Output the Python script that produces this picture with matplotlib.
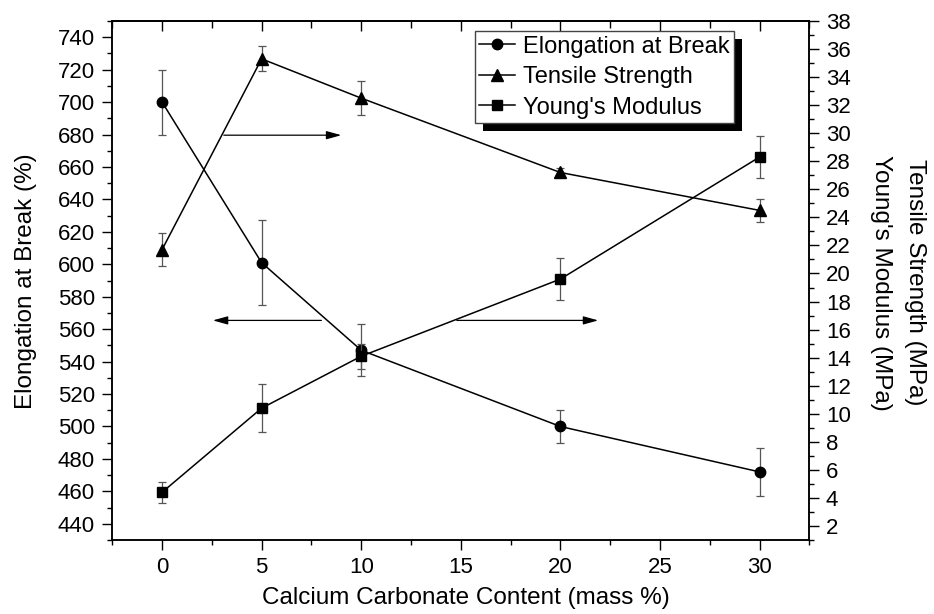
import matplotlib
matplotlib.use('Agg')
import matplotlib.pyplot as plt
from matplotlib.ticker import MultipleLocator
from matplotlib.lines import Line2D
from matplotlib.patches import Rectangle

plt.rcParams['font.family'] = ['Liberation Sans', 'DejaVu Sans']

# ---- data ----
content = [0, 5, 10, 20, 30]
elongation = [700, 601, 547, 500, 472]
elongation_err = [20, 26, 16, 10, 15]
tensile = [21.7, 35.3, 32.5, 27.2, 24.5]
tensile_err = [1.2, 0.9, 1.2, 0.3, 0.8]
modulus = [4.4, 10.4, 14.1, 19.6, 28.3]
modulus_err = [0.75, 1.7, 0.9, 1.5, 1.5]
labels = ["Elongation at Break", "Tensile Strength", "Young's Modulus"]

# annotation arrows (x0, x1, y on left axis)
arrow_right_top = (3.1, 9.0, 679.6)
arrow_left = (8.0, 2.55, 565.4)
arrow_right_bottom = (14.8, 21.9, 565.4)

fig = plt.figure(figsize=(9.34, 6.14), dpi=100)
ax = fig.add_axes([0.1202, 0.1205, 0.7463, 0.8453])
ax2 = ax.twinx()

line_kw = dict(color='black', lw=1.1, ecolor='#555555', elinewidth=0.9,
               capsize=3.2, capthick=0.9)
ax.errorbar(content, elongation, yerr=elongation_err, fmt='-o', ms=7.5, **line_kw)
ax2.errorbar(content, tensile, yerr=tensile_err, fmt='-^', ms=8, **line_kw)
ax2.errorbar(content, modulus, yerr=modulus_err, fmt='-s', ms=6.5, **line_kw)

ax.set_xlim(-2.5, 32.5)
ax.set_ylim(430, 750)
ax2.set_ylim(1, 38)

ax.xaxis.set_major_locator(MultipleLocator(5))
ax.xaxis.set_minor_locator(MultipleLocator(2.5))
ax.yaxis.set_major_locator(MultipleLocator(20))
ax.yaxis.set_minor_locator(MultipleLocator(10))
ax2.yaxis.set_major_locator(MultipleLocator(2))
ax2.yaxis.set_minor_locator(MultipleLocator(1))
ax.set_yticks(range(440, 741, 20))
ax2.set_yticks(range(2, 39, 2))

for a in (ax, ax2):
    for s in a.spines.values():
        s.set_linewidth(1.1)

ax.tick_params(axis='both', which='major', direction='out', length=7.5, width=1.0,
               labelsize=16, pad=5)
ax.tick_params(axis='both', which='minor', direction='out', length=3.6, width=1.0)
ax.tick_params(axis='y', right=False, which='both')
ax2.tick_params(axis='y', which='major', direction='out', length=7.5, width=1.0,
                labelsize=16, pad=4.5)
ax2.tick_params(axis='y', which='minor', direction='out', length=3.6, width=1.0)

sec = ax.secondary_xaxis('top')
sec.xaxis.set_major_locator(MultipleLocator(5))
sec.xaxis.set_minor_locator(MultipleLocator(2.5))
sec.tick_params(axis='x', which='major', direction='in', length=7, width=1.0, labeltop=False)
sec.tick_params(axis='x', which='minor', direction='in', length=5, width=1.0)
sec.spines['top'].set_linewidth(1.1)

# arrows
for (x0, x1, y) in (arrow_right_top, arrow_left, arrow_right_bottom):
    ax.annotate('', xy=(x1, y), xytext=(x0, y),
                arrowprops=dict(arrowstyle='-|>,head_length=0.9,head_width=0.25',
                                mutation_scale=10, lw=0.9, color='black',
                                shrinkA=0, shrinkB=0))

# axis labels
fig.text(466 / 934, 1 - 598 / 614, 'Calcium Carbonate Content (mass %)',
         ha='center', va='center', fontsize=17.5)
fig.text(26 / 934, 1 - 281 / 614, 'Elongation at Break (%)', rotation=90,
         ha='center', va='center', fontsize=17.5)
fig.text(881 / 934, 1 - 283 / 614, "Young's Modulus (MPa)", rotation=270,
         ha='center', va='center', fontsize=17.5)
fig.text(915 / 934, 1 - 282 / 614, 'Tensile Strength (MPa)', rotation=270,
         ha='center', va='center', fontsize=17.5)

# legend
handles = [Line2D([], [], color='black', marker=m, ms=ms, lw=1.1)
           for m, ms in (('o', 7.5), ('^', 8), ('s', 6.5))]
leg = ax2.legend(handles, labels, loc='upper left', bbox_to_anchor=(0.520, 0.981),
                 fontsize=17, frameon=True, fancybox=False, edgecolor='#444444',
                 framealpha=1, borderpad=0.2, handlelength=1.5, handletextpad=0.35,
                 labelspacing=0.36, borderaxespad=0)
leg.get_frame().set_linewidth(1.0)
leg.set_zorder(6)

fig.canvas.draw()
bb = leg.get_window_extent()
inv = ax2.transAxes.inverted()
(x0, y0), (x1, y1) = inv.transform([[bb.x0 + 8, bb.y0 - 8], [bb.x1 + 8, bb.y1 - 8]])
ax2.add_patch(Rectangle((x0, y0), x1 - x0, y1 - y0, transform=ax2.transAxes,
                        facecolor='black', edgecolor='none', zorder=5.5, clip_on=False))

fig.savefig('out.png', dpi=100)
